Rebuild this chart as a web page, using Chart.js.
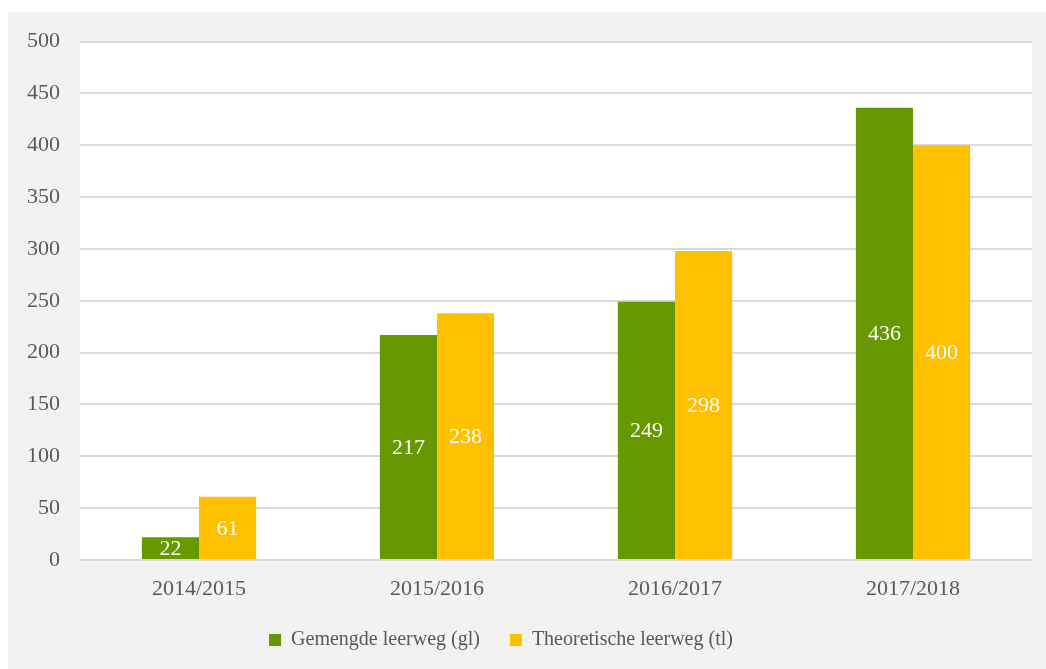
<!DOCTYPE html>
<html>
<head>
<meta charset="utf-8">
<script src="https://cdn.jsdelivr.net/npm/chart.js@4"></script>
<style>
    body { margin: 0; background: #ffffff; }
    #wrap { position: absolute; left: 8px; top: 12px; width: 1038px; height: 657px; background: #f2f2f2; }
</style>
</head>
<body>
<div id="wrap"><canvas id="leerwegChart" width="1038" height="657"></canvas></div>
<script>
const years = ["2014/2015", "2015/2016", "2016/2017", "2017/2018"];
const gemengdeValues = [22, 217, 249, 436];
const theoretischeValues = [61, 238, 298, 400];
const yTicks = [0, 50, 100, 150, 200, 250, 300, 350, 400, 450, 500];

const serif = "'Liberation Serif', 'Times New Roman', serif";

// white plot area on the grey background
const plotBackground = {
    id: "plotBackground",
    beforeDraw(chart) {
        const a = chart.chartArea;
        const ctx = chart.ctx;
        ctx.save();
        ctx.fillStyle = "#ffffff";
        ctx.fillRect(a.left, a.top, a.right - a.left, a.bottom - a.top);
        ctx.restore();
    }
};

// legend sits a bit left of centre in the original
const legendShift = {
    id: "legendShift",
    afterLayout(chart) {
        if (chart.legend) {
            chart.legend.left -= 19;
            chart.legend.right -= 19;
        }
    }
};

// value labels in the middle of each bar
const barLabels = {
    id: "barLabels",
    afterDatasetsDraw(chart) {
        const ctx = chart.ctx;
        ctx.save();
        ctx.fillStyle = "#ffffff";
        ctx.font = "22px " + serif;
        ctx.textAlign = "center";
        ctx.textBaseline = "middle";
        chart.data.datasets.forEach((ds, i) => {
            chart.getDatasetMeta(i).data.forEach((bar, j) => {
                const y = (bar.y + bar.base) / 2 + 1;
                ctx.fillText(String(ds.data[j]), bar.x, y);
            });
        });
        ctx.restore();
    }
};

new Chart(document.getElementById("leerwegChart"), {
    type: "bar",
    data: {
        labels: years,
        datasets: [
            {
                label: "Gemengde leerweg (gl)",
                data: gemengdeValues,
                backgroundColor: "#669900",
                categoryPercentage: 0.48,
                barPercentage: 1.0
            },
            {
                label: "Theoretische leerweg (tl)",
                data: theoretischeValues,
                backgroundColor: "#ffc000",
                categoryPercentage: 0.48,
                barPercentage: 1.0
            }
        ]
    },
    options: {
        responsive: false,
        animation: false,
        layout: {
            padding: { top: 0, right: 14, left: 0, bottom: 9 }
        },
        scales: {
            x: {
                grid: { display: false },
                border: { display: false },
                ticks: {
                    color: "#595959",
                    font: { family: serif, size: 22 },
                    padding: 8
                },
                afterFit(scale) { scale.height = 40; }
            },
            y: {
                min: 0,
                max: 500,
                afterBuildTicks(scale) {
                    scale.ticks = yTicks.map(v => ({ value: v }));
                },
                grid: {
                    color: "#d9d9d9",
                    lineWidth: 2,
                    drawTicks: false
                },
                border: { display: false },
                ticks: {
                    color: "#595959",
                    font: { family: serif, size: 22 },
                    padding: 20
                },
                afterFit(scale) {
                    scale.width = 72;
                    scale.paddingTop = 29.5;
                }
            }
        },
        plugins: {
            legend: {
                position: "bottom",
                labels: {
                    color: "#595959",
                    font: { family: serif, size: 20 },
                    boxWidth: 12,
                    boxHeight: 12,
                    padding: 30
                }
            },
            tooltip: { enabled: false }
        }
    },
    plugins: [plotBackground, legendShift, barLabels]
});
</script>
</body>
</html>
